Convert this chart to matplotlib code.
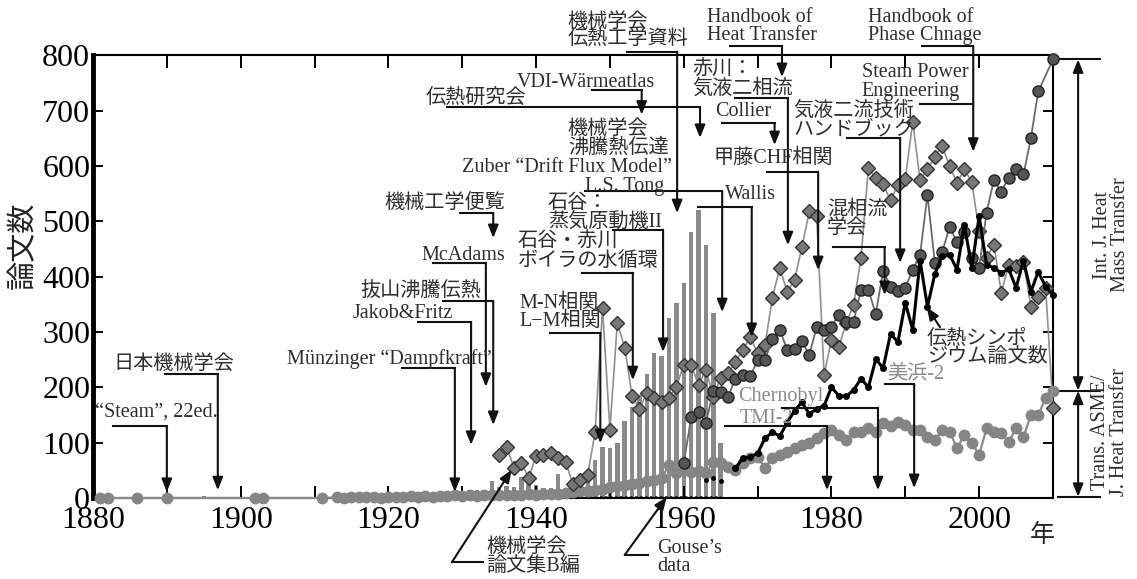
import matplotlib.pyplot as plt

plt.rcParams['font.family'] = ['Liberation Serif', 'Noto Sans CJK JP']

# Gouse's data (bars)
gouse_years = [1895, 1898] + list(range(1929, 1966))
gouse_counts = [3, 2,
                6, 10, 14, 14, 15, 30, 19, 22, 20, 38, 32,
                24, 18, 18, 43, 15, 15, 32, 47, 69, 92,
                90, 99, 139, 164, 186, 224, 262, 257, 325, 352,
                389, 480, 520, 458, 335, 100]

# diamonds
dia_years = list(range(1935, 2011))
dia_counts = [77, 93, 55, 63, 37,
              76, 78, 81, 73, 65, 25, 33, 42, 120, 343,
              123, 317, 272, 185, 161, 190, 181, 174, 181, 201,
              241, 241, 204, 232, 183, 217, 226, 246, 268, 291,
              262, 277, 362, 416, 373, 394, 454, 518, 509, 223,
              286, 273, 317, 349, 434, 597, 579, 567, 538, 566,
              577, 680, 575, 594, 617, 636, 600, 570, 594, 572,
              482, 434, 458, 371, 422, 419, 427, 346, 364, 380,
              163]

# Int. J. Heat Mass Transfer (dark circles)
ijhmt_years = list(range(1960, 2009)) + [2010]
ijhmt_counts = [63, 146, 155, 136, 193, 192, 183, 216, 222, 220,
                249, 250, 287, 304, 268, 269, 283, 259, 309, 304,
                309, 331, 319, 319, 376, 376, 333, 411, 382, 375,
                380, 413, 440, 548, 425, 445, 490, 463, 481, 434,
                416, 516, 575, 554, 579, 594, 585, 650, 735,
                793]

# Trans. ASME / J. Heat Transfer (light circles)
asme_years = [1881, 1882, 1886, 1890, 1902, 1903, 1911] + list(range(1913, 2011))
asme_counts = [0, 0, 0, 0, 0, 0, 0,
               1, 0, 1, 2, 2, 1, 0,
               1, 2, 1, 3, 2, 3, 2, 3, 4, 5,
               4, 5, 4, 5, 6, 6, 5, 5, 6, 7,
               6, 7, 7, 8, 9, 10, 12, 13, 15, 17,
               20, 22, 24, 26, 28, 31, 33, 36, 60, 46,
               50, 47, 48, 46, 65, 64, 56, 51, 63, 72,
               74, 54, 72, 78, 83, 90, 96, 99, 108, 118,
               123, 114, 105, 119, 119, 127, 119, 136, 130, 138,
               132, 123, 123, 110, 105, 123, 120, 90, 114, 99,
               78, 126, 120, 117, 101, 126, 110, 150, 150, 181,
               194]

# 伝熱シンポジウム
sympo_years = list(range(1967, 2011))
sympo_counts = [54, 72, 74,
                81, 108, 119, 112, 136, 158, 173, 152, 161, 167,
                200, 185, 184, 195, 216, 200, 251, 235, 297, 282,
                353, 304, 429, 346, 405, 438, 440, 413, 494, 416,
                509, 422, 416, 407, 414, 380, 429, 373, 409, 382,
                367]
sympo_early_years = [1963, 1964, 1965]
sympo_early_counts = [32, 36, 30]

GRAY_TXT = '#8a8a8a'
TXT = '#2e2e2e'
FS = 14.5

# (text, x, y, colour, leader path, arrow at end)
notes = [
    ('“Steam”, 22ed.', 1880.3, 155, TXT, [(1882.7, 130), (1890.0, 130), (1890.0, 11)], True),
    ('日本機械学会', 1882.7, 242, TXT, [(1889.7, 224), (1896.9, 224), (1896.9, 14)], True),
    ('Münzinger “Dampfkraft”', 1906.3, 251, TXT, [(1921.8, 235), (1929.0, 235), (1929.0, 11)], True),
    ('Jakob&Fritz', 1915.1, 333, TXT, [(1924.0, 318), (1931.2, 318), (1931.2, 96)], True),
    ('抜山沸騰伝熱', 1916.2, 372, TXT, [(1927.4, 356), (1934.2, 356), (1934.2, 132)], True),
    ('McAdams', 1924.5, 439, TXT, [(1926.0, 425), (1933.2, 425), (1933.2, 201)], True),
    ('機械工学便覧', 1919.5, 533, TXT, [(1929.7, 515), (1934.2, 515), (1934.2, 470)], True),
    ('伝熱研究会', 1925.0, 721, TXT, [(1927.9, 707), (1962.2, 707), (1962.2, 651)], True),
    ('VDI-Wärmeatlas', 1937.4, 752, TXT, [(1947.6, 738), (1954.3, 738), (1954.3, 693)], True),
    ('機械学会\n伝熱工学資料', 1944.3, 843, TXT, [(1952.3, 807), (1959.1, 807), (1959.1, 515)], True),
    ('機械学会\n沸騰熱伝達', 1944.3, 649, TXT, None, False),
    ('Zuber “Drift Flux Model”', 1930.0, 597, TXT, None, False),
    ('L.S. Tong', 1946.6, 563, TXT, [(1946.6, 555), (1965.2, 555), (1965.2, 336)], True),
    ('石谷：\n蒸気原動機II', 1941.6, 515, TXT, [(1950.4, 485), (1957.2, 485), (1957.2, 264)], True),
    ('石谷・赤川\nボイラの水循環', 1937.5, 445, TXT, [(1946.2, 407), (1953.1, 407), (1953.1, 213)], True),
    ('M-N相関\nL−M相関', 1937.8, 336, TXT, [(1941.9, 298), (1948.7, 298), (1948.7, 99)], True),
    ('機械学会\n論文集B編', 1933.3, -107, TXT, [(1932.8, -116), (1928.6, -116), (1936.7, 51)], True),
    ('Gouse’s\ndata', 1956.4, -107, TXT, [(1955.2, -103), (1952.0, -103), (1957.7, 2)], True),
    ('Handbook of\nHeat Transfer', 1963.1, 852, TXT, [(1966.3, 817), (1973.3, 817), (1973.3, 761)], True),
    ('Handbook of\nPhase Chnage', 1984.9, 852, TXT, [(1992.3, 817), (1999.2, 817), (1999.2, 626)], True),
    ('Steam Power\nEngineering', 1984.1, 752, TXT, [(1992.0, 712), (1999.2, 712)], False),
    ('赤川：\n気液二相流', 1961.1, 756, TXT, [(1966.9, 723), (1974.1, 723), (1974.1, 457)], True),
    ('Collier', 1964.2, 698, TXT, [(1965.2, 678), (1972.3, 678), (1972.3, 638)], True),
    ('甲藤CHF相関', 1964.0, 615, TXT, [(1971.3, 590), (1978.2, 590), (1978.2, 412)], True),
    ('気液二流技術\nハンドブック', 1974.8, 682, TXT, [(1982.1, 651), (1989.3, 651), (1989.3, 425)], True),
    ('混相流\n学会', 1979.4, 503, TXT, [(1980.2, 454), (1987.2, 454), (1987.2, 367)], True),
    ('Wallis', 1965.6, 548, TXT, [(1961.9, 526), (1969.2, 526), (1969.2, 291)], True),
    ('Chernobyl', 1967.3, 183, GRAY_TXT, [(1973.3, 163), (1986.3, 163), (1986.3, 14)], True),
    ('TMI-2', 1967.6, 143, GRAY_TXT, [(1965.6, 130), (1979.4, 130), (1979.4, 14)], True),
    ('美浜-2', 1987.6, 222, GRAY_TXT, [(1987.2, 206), (1991.2, 206), (1991.2, 18)], True),
    ('伝熱シンポ\nジウム論文数', 1992.9, 271, TXT, [(1994.7, 309), (1992.9, 345)], True),
]

fig = plt.figure(figsize=(11.37, 5.79), dpi=100)
ax = fig.add_axes([93 / 1137, 81 / 579, 960 / 1137, 442.5 / 579])

ax.bar(gouse_years, gouse_counts, width=0.6, color='#8a8a8a', zorder=1)
ax.plot([gouse_years[2], gouse_years[-1]], [1.5, 1.5], color='#222222', lw=1.2,
        ls=(0, (1.5, 1.5)), zorder=2)

ax.plot(asme_years, asme_counts, color='#8a8a8a', lw=1.6, marker='o', ms=7.5,
        mfc='#858585', mec='#858585', clip_on=False, zorder=3)
ax.plot(dia_years, dia_counts, color='#8f8f8f', lw=1.2, marker='D', ms=6.8,
        mfc='#777777', mec='#333333', mew=1, clip_on=False, zorder=4)
ax.plot(ijhmt_years, ijhmt_counts, color='#6a6a6a', lw=1.3, marker='o', ms=8,
        mfc='#555555', mec='#222222', mew=1, clip_on=False, zorder=5)
ax.plot(sympo_years, sympo_counts, color='black', lw=2.2, marker='o', ms=4,
        clip_on=False, zorder=6)
ax.plot(sympo_early_years, sympo_early_counts, ls='none', marker='o', ms=2.5,
        color='black', zorder=6)

ax.set_xlim(1880, 2010)
ax.set_ylim(0, 800)
ax.set_xticks(range(1880, 2001, 20))
ax.set_xticks(range(1890, 2010, 20), minor=True)
ax.set_yticks(range(0, 801, 100))
ax.tick_params(axis='x', which='both', direction='in', top=True, length=9,
               width=1.4, labelsize=23, pad=6)
ax.tick_params(axis='y', direction='in', right=True, length=7, width=1.4,
               labelsize=23, pad=2)
for side in ['top', 'bottom', 'right']:
    ax.spines[side].set_linewidth(1.5)
ax.spines['left'].set_linewidth(3.5)


def leader(path, arrow):
    xs = [p[0] for p in path]
    ys = [p[1] for p in path]
    if not arrow:
        ax.plot(xs, ys, color='#111111', lw=1.5, clip_on=False, zorder=7)
        return
    if len(path) > 2:
        ax.plot(xs[:-1], ys[:-1], color='#111111', lw=1.5, clip_on=False, zorder=7)
    ax.annotate('', xy=path[-1], xytext=path[-2], annotation_clip=False, zorder=7,
                arrowprops=dict(arrowstyle='-|>,head_length=0.55,head_width=0.22',
                                color='#111111', lw=1.5, mutation_scale=14,
                                shrinkA=0, shrinkB=0))


for text, tx, ty, col, path, arrow in notes:
    ax.text(tx, ty, text, fontsize=FS, color=col, ha='left', va='center',
            linespacing=0.95, clip_on=False, zorder=8)
    if path:
        leader(path, arrow)

# right-hand brackets
last_top = ijhmt_counts[-1]
last_low = asme_counts[-1]
for v in [last_top, last_low, 2]:
    ax.plot([2010.7, 2016.4], [v, v], color='#111111', lw=1.5, clip_on=False)
for a, b in [(last_low, last_top), (2, last_low)]:
    ax.annotate('', xy=(2013.4, b), xytext=(2013.4, a), annotation_clip=False,
                arrowprops=dict(arrowstyle='<|-|>,head_length=0.55,head_width=0.22',
                                color='#111111', lw=1.5, mutation_scale=14,
                                shrinkA=0, shrinkB=0))
ax.text(2017.9, 476, 'Int. J. Heat\nMass Transfer', rotation=90, fontsize=FS,
        color=TXT, ha='center', va='center', linespacing=0.95)
ax.text(2017.7, 119, 'Trans. ASME/\nJ. Heat Transfer', rotation=90, fontsize=FS,
        color=TXT, ha='center', va='center', linespacing=0.95)

fig.text(23 / 1137, 1 - 245 / 579, '論文数', rotation=90, fontsize=21,
         ha='center', va='center', color='#222222')
fig.text(1042 / 1137, 1 - 535 / 579, '年', fontsize=18, ha='center',
         va='center', color='#222222')

fig.savefig('out.png', dpi=100)
